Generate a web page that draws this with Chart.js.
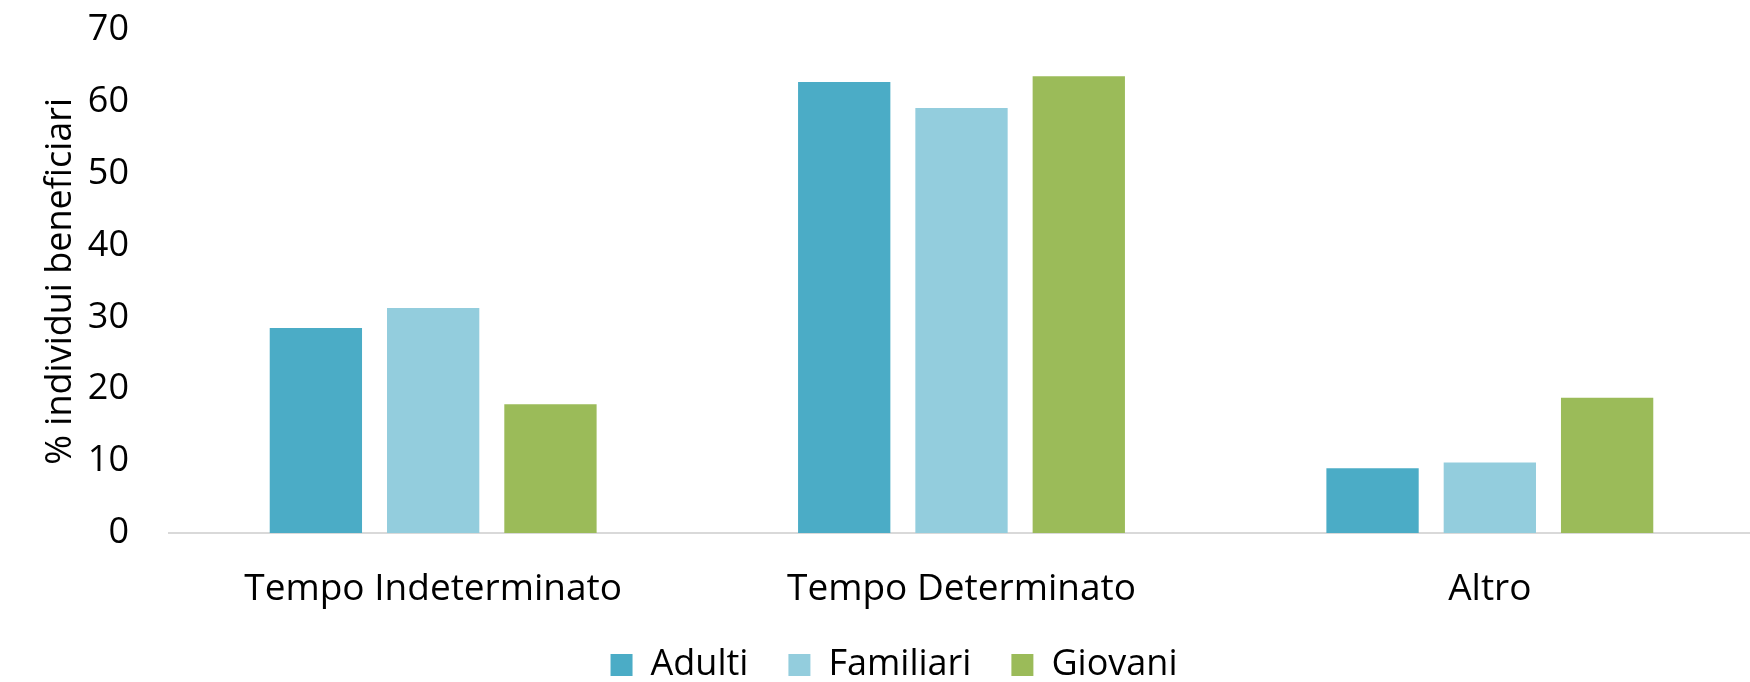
<!DOCTYPE html>
<html>
<head>
<meta charset="utf-8">
<script src="https://cdn.jsdelivr.net/npm/chart.js@4/dist/chart.umd.min.js"></script>
<style>
  html, body { margin: 0; padding: 0; background: #fff; overflow: hidden; }
  #wrap { width: 1754px; height: 682px; }
  canvas { display: block; }
</style>
</head>
<body>
<div id="wrap"><canvas id="c" width="1754" height="682"></canvas></div>
<script>
const categories = ['Tempo Indeterminato', 'Tempo Determinato', 'Altro'];
const seriesNames = ['Adulti', 'Familiari', 'Giovani'];
const adulti = [28.5, 62.7, 9.0];
const familiari = [31.3, 59.1, 9.8];
const giovani = [17.9, 63.5, 18.8];
const yMin = 0, yMax = 70, yStep = 10;
const yTitle = '% individui beneficiari';

const colors = ['#4BACC6', '#93CDDD', '#9BBB59'];
const FONT = "'Open Sans', sans-serif";

const legendShift = {
  id: 'legendShift',
  afterUpdate(chart) {
    const lg = chart.legend;
    if (!lg) return;
    const dx = 17, dy = -25;
    lg.left += dx; lg.right += dx;
    lg.top += dy;
    lg.bottom = chart.height + 60;
  }
};

new Chart(document.getElementById('c'), {
  type: 'bar',
  data: {
    labels: categories,
    datasets: [
      { label: seriesNames[0], data: adulti, backgroundColor: colors[0] },
      { label: seriesNames[1], data: familiari, backgroundColor: colors[1] },
      { label: seriesNames[2], data: giovani, backgroundColor: colors[2] }
    ]
  },
  options: {
    responsive: false,
    animation: false,
    devicePixelRatio: 1,
    layout: { padding: { top: 8, left: 0, right: 0, bottom: 0 } },
    datasets: { bar: { categoryPercentage: 0.666, barPercentage: 0.787, borderWidth: 0 } },
    plugins: {
      legend: {
        position: 'bottom',
        maxHeight: 50,
        labels: {
          font: { family: FONT, size: 36 },
          color: '#000',
          boxWidth: 22,
          boxHeight: 22,
          padding: 40
        }
      },
      tooltip: { enabled: false },
      title: { display: false }
    },
    scales: {
      x: {
        grid: { display: false, drawTicks: false },
        border: { display: true, color: '#d9d9d9', width: 2 },
        ticks: { font: { family: FONT, size: 37 }, color: '#000', padding: 34, maxRotation: 0, autoSkip: false },
        afterFit(scale) { scale.height = 99; }
      },
      y: {
        min: yMin, max: yMax,
        grid: { display: false, drawTicks: true, tickLength: 32 },
        border: { display: false },
        ticks: { stepSize: yStep, font: { family: FONT, size: 36 }, color: '#000', padding: 8 },
        title: { display: true, text: yTitle, font: { family: FONT, size: 36 }, color: '#000', padding: { top: 39, bottom: 0 } },
        afterFit(scale) { scale.width = 169; }
      }
    }
  },
  plugins: [legendShift]
});
</script>
</body>
</html>
